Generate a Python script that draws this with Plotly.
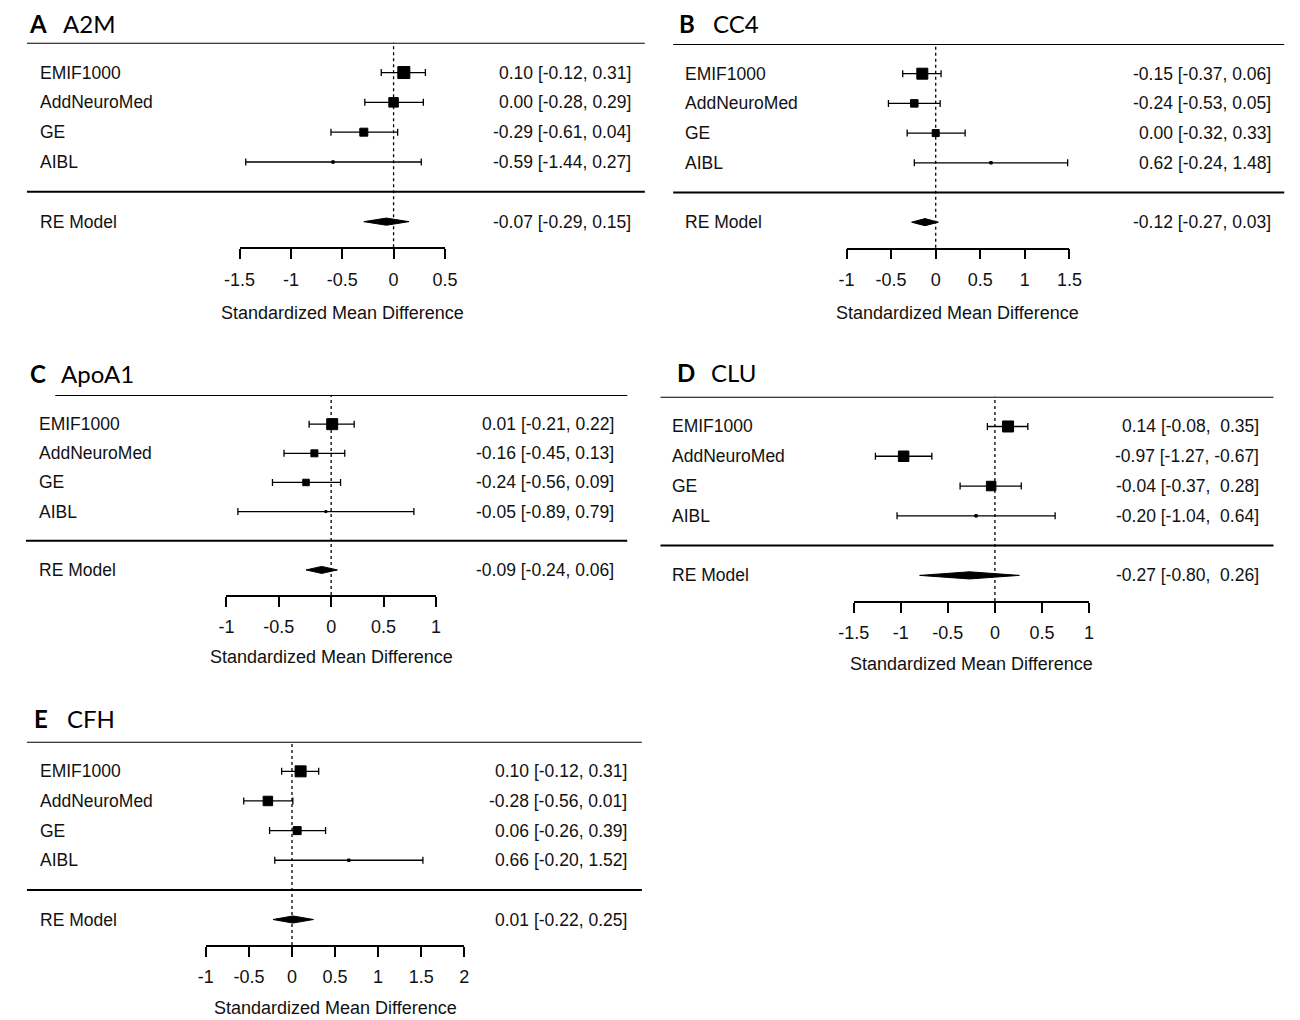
import plotly.graph_objects as go

# figure size in px; the page adds an 8px body margin, so positions are offset by it
W, H = 1300, 1020
OFF = 8

studies = ["EMIF1000", "AddNeuroMed", "GE", "AIBL"]
letters = ["A", "B", "C", "D", "E"]
proteins = ["A2M", "CC4", "ApoA1", "CLU", "CFH"]

# per-study effect sizes (SMD) with 95% CI, then RE model [est, lo, hi]
a2m_est = [0.10, 0.00, -0.29, -0.59]
a2m_lo = [-0.12, -0.28, -0.61, -1.44]
a2m_hi = [0.31, 0.29, 0.04, 0.27]
a2m_re = [-0.07, -0.29, 0.15]

cc4_est = [-0.15, -0.24, 0.00, 0.62]
cc4_lo = [-0.37, -0.53, -0.32, -0.24]
cc4_hi = [0.06, 0.05, 0.33, 1.48]
cc4_re = [-0.12, -0.27, 0.03]

apoa1_est = [0.01, -0.16, -0.24, -0.05]
apoa1_lo = [-0.21, -0.45, -0.56, -0.89]
apoa1_hi = [0.22, 0.13, 0.09, 0.79]
apoa1_re = [-0.09, -0.24, 0.06]

clu_est = [0.14, -0.97, -0.04, -0.20]
clu_lo = [-0.08, -1.27, -0.37, -1.04]
clu_hi = [0.35, -0.67, 0.28, 0.64]
clu_re = [-0.27, -0.80, 0.26]

cfh_est = [0.10, -0.28, 0.06, 0.66]
cfh_lo = [-0.12, -0.56, -0.26, -0.20]
cfh_hi = [0.31, 0.01, 0.39, 1.52]
cfh_re = [0.01, -0.22, 0.25]

# x axis ticks for each panel
a2m_ticks = [-1.5, -1, -0.5, 0, 0.5]
cc4_ticks = [-1, -0.5, 0, 0.5, 1, 1.5]
apoa1_ticks = [-1, -0.5, 0, 0.5, 1]
clu_ticks = [-1.5, -1, -0.5, 0, 0.5, 1]
cfh_ticks = [-1, -0.5, 0, 0.5, 1, 1.5, 2]

a2m_ticklabels = ["-1.5", "-1", "-0.5", "0", "0.5"]
cc4_ticklabels = ["-1", "-0.5", "0", "0.5", "1", "1.5"]
apoa1_ticklabels = ["-1", "-0.5", "0", "0.5", "1"]
clu_ticklabels = ["-1.5", "-1", "-0.5", "0", "0.5", "1"]
cfh_ticklabels = ["-1", "-0.5", "0", "0.5", "1", "1.5", "2"]

panels = [
    (a2m_est, a2m_lo, a2m_hi, a2m_re, a2m_ticks, a2m_ticklabels),
    (cc4_est, cc4_lo, cc4_hi, cc4_re, cc4_ticks, cc4_ticklabels),
    (apoa1_est, apoa1_lo, apoa1_hi, apoa1_re, apoa1_ticks, apoa1_ticklabels),
    (clu_est, clu_lo, clu_hi, clu_re, clu_ticks, clu_ticklabels),
    (cfh_est, cfh_lo, cfh_hi, cfh_re, cfh_ticks, cfh_ticklabels),
]

# layout (pixels): axis span, top rule, axis line, rules, text columns, titles
geom = [
    dict(ax=(228.5, 438.5), top=42.7, axis=247.3, rule=(11, 643), top_l=11, label=22, ci=631,
         title_y=24, letter_x=12, name_x=47, xtitle=313),
    dict(ax=(849.3, 1077.3), top=44, axis=247.7, rule=(672, 1297), top_l=672, label=682, ci=1286,
         title_y=24, letter_x=677, name_x=712, xtitle=312.5),
    dict(ax=(215, 429.3), top=395, axis=595, rule=(10, 625), top_l=40, label=21, ci=613,
         title_y=373, letter_x=13, name_x=45, xtitle=657),
    dict(ax=(856.7, 1097.3), top=396.7, axis=601, rule=(659, 1286), top_l=659, label=669, ci=1273,
         title_y=372, letter_x=675, name_x=710, xtitle=663.5),
    dict(ax=(194, 458.3), top=741.7, axis=945, rule=(11, 640), top_l=11, label=22, ci=627,
         title_y=718, letter_x=17, name_x=51, xtitle=1007.5),
]

# box sizes (px), roughly following study weights
box_px = [
    [12, 9.5, 8, 2.5],
    [11, 7.5, 7, 2.5],
    [11, 7, 6.5, 2],
    [11, 10.5, 9.5, 2.5],
    [11, 9.5, 8, 2.5],
]

YMIN = -0.86
YTOP = 6
DIAMOND_H = 0.12
TXT = dict(family="Liberation Sans, Arial, sans-serif", size=17.5, color="#111")


def px2x(p):
    return (p - OFF) / W


def py2y(p):
    return 1 - (p - OFF) / H


def fmt(v, pad):
    s = "{:.2f}".format(v)
    if pad and v >= 0:
        s = "\u00a0" + s
    return s


fig = go.Figure()
annotations = []
shapes = []

for i, (est, lo, hi, re, ticks, ticklabels) in enumerate(panels):
    g = geom[i]
    n = i + 1
    sfx = "" if n == 1 else str(n)
    xa, ya = "x" + sfx, "y" + sfx
    xkey, ykey = "xaxis" + sfx, "yaxis" + sfx
    rows = [len(studies) + 1 - k for k in range(len(studies))]

    fig.add_trace(go.Scatter(
        x=est, y=rows, mode="markers", xaxis=xa, yaxis=ya,
        marker=dict(symbol="square", size=box_px[i], color="black", opacity=1,
                    line=dict(width=1, color="black")),
        error_x=dict(type="data", symmetric=False,
                     array=[h - e for h, e in zip(hi, est)],
                     arrayminus=[e - l for e, l in zip(est, lo)],
                     color="black", thickness=1.3, width=3.5),
        cliponaxis=False, showlegend=False, hoverinfo="skip"))

    fig.add_trace(go.Scatter(
        x=[re[1], re[0], re[2], re[0], re[1]],
        y=[0, DIAMOND_H, 0, -DIAMOND_H, 0],
        mode="lines", fill="toself", fillcolor="black",
        line=dict(color="black", width=1), xaxis=xa, yaxis=ya,
        cliponaxis=False, showlegend=False, hoverinfo="skip"))

    fig.layout[xkey] = dict(
        domain=[px2x(g["ax"][0]), px2x(g["ax"][1])],
        range=[ticks[0], ticks[-1]], anchor=ya,
        tickmode="array", tickvals=ticks, ticktext=ticklabels,
        showline=True, linecolor="black", linewidth=1.5,
        ticks="outside", ticklen=10, tickwidth=1.5, tickcolor="black",
        tickfont=dict(family=TXT["family"], size=18, color="#111"),
        ticklabelstandoff=5,
        showgrid=False, zeroline=False, fixedrange=True)
    fig.layout[ykey] = dict(
        domain=[py2y(g["axis"]), py2y(g["top"])],
        range=[YMIN, YTOP], anchor=xa, visible=False,
        showgrid=False, zeroline=False, fixedrange=True)

    # rules and zero reference line
    shapes.append(dict(type="line", xref="paper", yref=ya,
                       x0=px2x(g["top_l"]), x1=px2x(g["rule"][1]), y0=YTOP, y1=YTOP,
                       line=dict(color="black", width=2)))
    shapes.append(dict(type="line", xref="paper", yref=ya,
                       x0=px2x(g["rule"][0]), x1=px2x(g["rule"][1]), y0=1, y1=1,
                       line=dict(color="black", width=2)))
    shapes.append(dict(type="line", xref=xa, yref=ya + " domain",
                       x0=0, x1=0, y0=0, y1=1,
                       line=dict(color="black", width=1.3, dash="dot")))

    pad_hi = any(v < 0 for v in hi + [re[2]])
    pad_lo = any(v < 0 for v in lo + [re[1]]) and any(v >= 0 for v in lo + [re[1]])

    labels = studies + ["RE Model"]
    ests = est + [re[0]]
    los = lo + [re[1]]
    his = hi + [re[2]]
    ys = rows + [0]
    for lab, e, l, h, yv in zip(labels, ests, los, his, ys):
        annotations.append(dict(text=lab, xref="paper", yref=ya, x=px2x(g["label"]), y=yv,
                                xanchor="left", yanchor="middle", showarrow=False, font=TXT))
        ci = "%s [%s, %s]" % (fmt(e, False), fmt(l, pad_lo), fmt(h, pad_hi))
        annotations.append(dict(text=ci, xref="paper", yref=ya, x=px2x(g["ci"]), y=yv,
                                xanchor="right", yanchor="middle", showarrow=False, font=TXT))

    annotations.append(dict(text="Standardized Mean Difference", xref=xa + " domain", yref="paper",
                            x=0.5, y=py2y(g["xtitle"]), xanchor="center", yanchor="middle",
                            showarrow=False, font=dict(family=TXT["family"], size=18, color="#111")))
    annotations.append(dict(text="<b>%s</b>" % letters[i], xref="paper", yref="paper",
                            x=px2x(g["letter_x"]), y=py2y(g["title_y"]), xanchor="left", yanchor="middle",
                            borderpad=0, showarrow=False,
                            font=dict(family="Lato, sans-serif", size=24, color="black")))
    annotations.append(dict(text=proteins[i], xref="paper", yref="paper",
                            x=px2x(g["name_x"]), y=py2y(g["title_y"]), xanchor="left", yanchor="middle",
                            borderpad=0, showarrow=False,
                            font=dict(family="Lato, sans-serif", size=24, color="black")))

fig.update_layout(
    width=W, height=H, margin=dict(l=0, r=0, t=0, b=0),
    paper_bgcolor="white", plot_bgcolor="white",
    showlegend=False, annotations=annotations, shapes=shapes)

fig.write_html("out.html")
